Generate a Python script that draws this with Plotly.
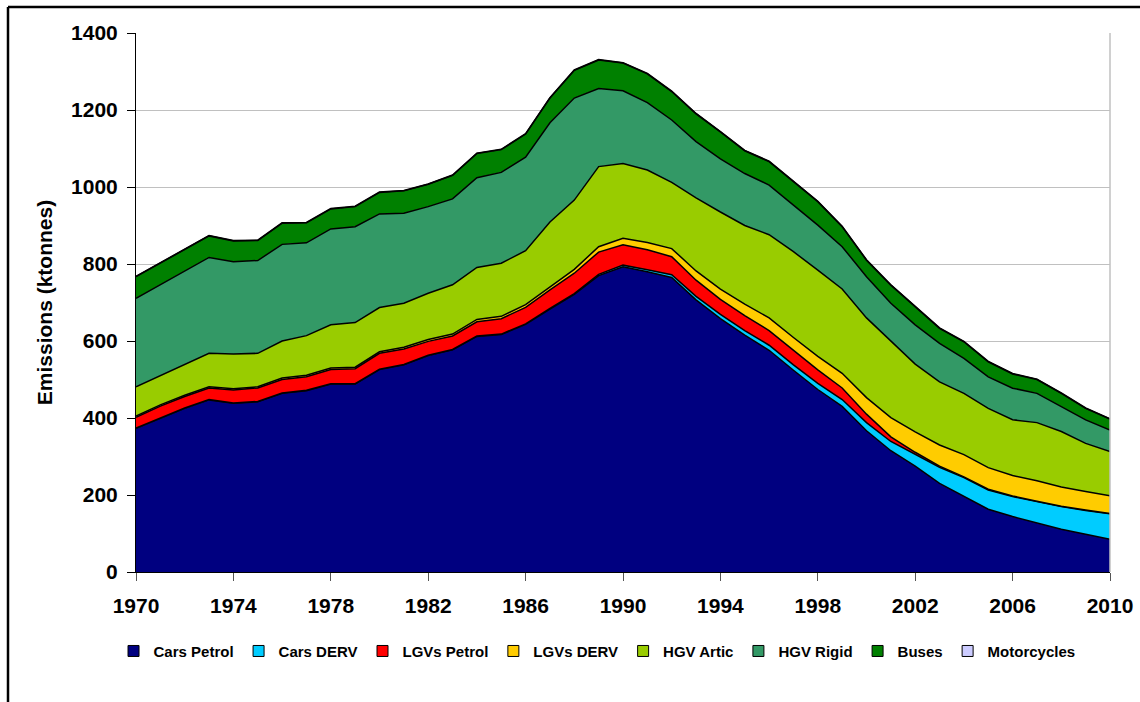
import plotly.graph_objects as go

years = list(range(1970, 2011))

series_names = ["Cars Petrol", "Cars DERV", "LGVs Petrol", "LGVs DERV",
                "HGV Artic", "HGV Rigid", "Buses", "Motorcycles"]

cars_petrol = [373, 400, 425, 447, 438, 442, 464, 471, 488, 488,
               526, 538, 562, 577, 612, 617, 643, 683, 721, 770,
               793, 780, 765, 707, 658, 615, 576, 524, 474, 430,
               367, 315, 275, 230, 197, 163, 144, 127, 111, 98, 85]
cars_derv = [1, 1, 1, 1, 1, 1, 1, 1, 1, 1,
             1, 1, 1, 1, 1, 1, 1.5, 2, 2, 3,
             4, 5, 7, 9, 11, 12, 13, 14, 16, 18,
             21, 24, 31, 42, 48, 50, 52, 56, 59, 62, 66]
lgv_petrol = [28, 30, 30, 30, 34, 35, 35, 35, 37, 39,
              41, 40, 36, 35, 37, 40, 43, 48, 53, 58,
              53, 52, 47, 42, 39, 39, 38, 37, 35, 30,
              22, 12, 5, 3, 2, 2, 1.5, 1, 1, 1, 1]
lgv_derv = [3, 3, 3, 3, 3, 3, 4, 4, 4, 4,
            4, 5, 5, 5, 6, 6, 7, 8, 10, 14,
            17, 19, 21, 24, 27, 30, 33, 34, 35, 38,
            43, 50, 53, 55, 58, 56, 53, 53, 50, 48, 46]
hgv_artic = [76, 76, 81, 87, 90, 87, 96, 103, 112, 116,
             115, 114, 120, 128, 135, 138, 140, 168, 180, 208,
             194, 188, 172, 190, 200, 204, 216, 223, 224, 219,
             207, 199, 176, 164, 159, 154, 145, 151, 144, 125, 115]
hgv_rigid = [230, 237, 242, 249, 240, 241, 251, 241, 249, 249,
             243, 234, 225, 223, 233, 236, 243, 258, 265, 203,
             189, 175, 162, 146, 138, 135, 129, 121, 117, 110,
             107, 98, 102, 100, 91, 82, 82, 76, 64, 61, 56]
buses = [56, 56, 56, 56, 54, 52, 55, 52, 52, 52,
         56, 58, 58, 61, 63, 59, 60, 64, 72, 74,
         72, 75, 74, 72, 70, 59, 61, 61, 61, 52,
         43, 47, 47, 39, 43, 39, 37, 36, 35, 30, 28]
motorcycles = [1, 1, 1, 1, 1, 1, 1, 1, 1, 1,
               1, 1, 1, 1, 1, 1, 1, 1, 1, 1,
               1, 1, 1, 1, 1, 1, 1, 1, 1, 1,
               1, 1, 1, 1, 1, 1, 1, 1, 1, 1, 1]

series_values = [cars_petrol, cars_derv, lgv_petrol, lgv_derv,
                 hgv_artic, hgv_rigid, buses, motorcycles]
colors = ["#000080", "#00CCFF", "#FF0000", "#FFCC00",
          "#99CC00", "#339966", "#008000", "#CCCCFF"]

x_ticks = [1970, 1974, 1978, 1982, 1986, 1990, 1994, 1998, 2002, 2006, 2010]

FONT = "Liberation Sans, Arial, sans-serif"

fig = go.Figure()
for name, vals, col in zip(series_names, series_values, colors):
    fig.add_trace(go.Scatter(
        x=years, y=vals, name=name, mode="lines",
        stackgroup="one", fillcolor=col,
        line=dict(color="black", width=1.5),
        showlegend=False, hoverinfo="skip",
    ))
# legend entries with square swatches
for name, col in zip(series_names, colors):
    fig.add_trace(go.Scatter(
        x=[None], y=[None], name=name, mode="markers",
        marker=dict(symbol="square", size=11, color=col,
                    line=dict(color="black", width=1)),
        showlegend=True,
    ))

# plot area geometry in pixels (for paper-coord conversions of frame lines)
L, R, T, B = 136, 30, 33, 130
W, H = 1140, 702
pw, ph = W - L - R, H - T - B
fx = (8 - L) / pw
fy = (H - B - 7) / ph

fig.update_layout(
    width=W, height=H, autosize=False,
    margin=dict(l=L, r=R, t=T, b=B, autoexpand=False),
    paper_bgcolor="white", plot_bgcolor="white",
    font=dict(family=FONT, color="black", weight="bold"),
    showlegend=True,
    legend=dict(orientation="h", xref="container", x=0.5237, xanchor="center",
                y=-0.147, yanchor="middle",
                font=dict(size=15, family=FONT, weight="bold"),
                traceorder="normal", bgcolor="rgba(0,0,0,0)"),
    xaxis=dict(range=[1970, 2010], tickmode="array", tickvals=x_ticks,
               ticktext=[str(t) for t in x_ticks],
               ticks="outside", ticklen=8, tickcolor="#555555",
               showline=True, linecolor="black", linewidth=1,
               showgrid=False, zeroline=False, automargin=False,
               tickfont=dict(size=21, family=FONT, weight="bold"),
               ticklabelstandoff=7),
    yaxis=dict(range=[0, 1400], dtick=200, tick0=0,
               ticks="outside", ticklen=8, tickcolor="black",
               showline=True, linecolor="black", linewidth=1,
               showgrid=True, gridcolor="#C0C0C0", gridwidth=1,
               zeroline=False, automargin=False,
               tickfont=dict(size=21, family=FONT, weight="bold"),
               ticklabelstandoff=5,
               title=dict(text="Emissions (ktonnes)",
                          font=dict(size=21, family=FONT, weight="bold"),
                          standoff=12)),
    shapes=[
        dict(type="line", xref="paper", yref="paper", x0=1, x1=1, y0=0, y1=1,
             line=dict(color="#C0C0C0", width=1.5)),
        dict(type="line", xref="paper", yref="paper", x0=fx, x1=1.2, y0=fy, y1=fy,
             line=dict(color="black", width=2.5)),
        dict(type="line", xref="paper", yref="paper", x0=fx, x1=fx, y0=fy, y1=-0.5,
             line=dict(color="black", width=2.5)),
    ],
)

fig.write_html("out.html", config={"displayModeBar": False},
               post_script="document.body.style.margin='0';document.body.style.overflow='hidden';")
